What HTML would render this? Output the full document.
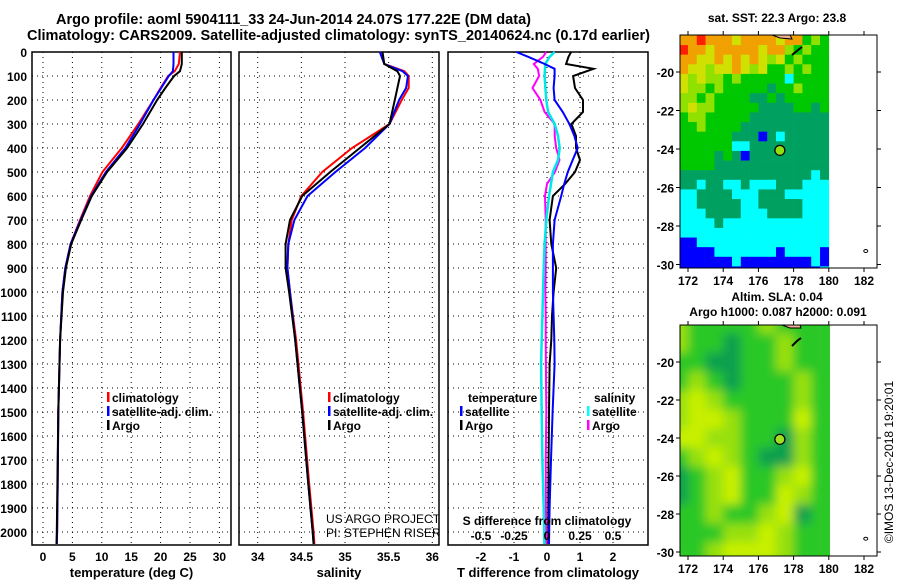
<!DOCTYPE html>
<html><head><meta charset="utf-8">
<style>
body{margin:0;background:#fff;width:900px;height:580px;overflow:hidden;font-family:"Liberation Sans",Arial,sans-serif}
svg text{font-family:"Liberation Sans",Arial,sans-serif}
</style></head>
<body>
<svg id="chart" width="900" height="580" viewBox="0 0 900 580" xmlns="http://www.w3.org/2000/svg">
<defs>
<clipPath id="cp1"><rect x="32" y="42" width="199" height="503"/></clipPath>
<clipPath id="cp2"><rect x="239" y="42" width="200" height="503"/></clipPath>
<clipPath id="cp3"><rect x="448" y="42" width="200" height="503"/></clipPath>
<clipPath id="cpm1"><rect x="680" y="35" width="150" height="233"/></clipPath>
<clipPath id="cpm2"><rect x="680" y="325" width="150" height="231"/></clipPath>
<filter id="blur" x="-5%" y="-5%" width="110%" height="110%"><feGaussianBlur stdDeviation="5"/></filter>
</defs>
<text x="56" y="24" textLength="475" lengthAdjust="spacingAndGlyphs" font-size="14.5" font-weight="bold">Argo profile: aoml 5904111_33 24-Jun-2014 24.07S 177.22E (DM data)</text>
<text x="27" y="40" textLength="623" lengthAdjust="spacingAndGlyphs" font-size="14.5" font-weight="bold">Climatology: CARS2009. Satellite-adjusted climatology: synTS_20140624.nc (0.17d earlier)</text>
<g id="layer"></g>
</svg>
<script>
// ---- data ----
const depthTicks = [0,100,200,300,400,500,600,700,800,900,1000,1100,1200,1300,1400,1500,1600,1700,1800,1900,2000];
const tempTicks = [0,5,10,15,20,25,30];
const salTicks = [34,34.5,35,35.5,36];
const salTickLabels = ["34","34.5","35","35.5","36"];
const tdiffTicks = [-2,-1,0,1,2];
const sdiffTicks = [-0.5,-0.25,0,0.25,0.5];
const sdiffTickLabels = ["-0.5","-0.25","0","0.25","0.5"];

const depths = [0,50,80,100,150,200,300,400,500,600,700,800,900,1000,1200,1500,1800,2000,2050];
const tempArgo = [23.6,23.6,23.3,22.3,20.8,19.4,17.0,14.3,10.9,8.3,6.5,4.8,3.9,3.4,2.9,2.6,2.45,2.35,2.3];
const tempClim = [23.3,23.1,22.4,21.3,20.0,18.8,16.2,13.4,10.1,8.0,6.3,4.7,3.8,3.3,2.9,2.6,2.5,2.4,2.35];
const tempSat  = [22.2,22.2,22.1,21.4,20.1,18.8,16.5,14.0,10.7,8.2,6.4,4.7,3.8,3.3,2.9,2.6,2.5,2.4,2.35];
const salArgo = [35.43,35.45,35.60,35.63,35.60,35.57,35.51,35.17,34.83,34.51,34.37,34.32,34.32,34.36,34.43,34.51,34.58,34.63,34.64];
const salClim = [35.40,35.45,35.68,35.73,35.73,35.65,35.51,35.08,34.74,34.50,34.39,34.35,34.34,34.37,34.44,34.52,34.59,34.64,34.65];
const salSat  = [35.40,35.45,35.66,35.72,35.70,35.62,35.51,35.23,34.89,34.57,34.42,34.35,34.34,34.37,34.43,34.51,34.58,34.63,34.64];

const diffDepths = [0,20,50,70,100,150,200,250,300,350,400,450,500,550,600,700,800,900,1000,1100,1200,1300,1500,1700,1900,2050];
const dT_argo = [0.73,0.65,0.58,1.41,0.79,0.85,1.09,1.09,0.74,0.88,0.88,1.0,0.85,0.55,0.18,0.08,0.13,0.28,0.2,0.15,0.13,0.08,0.06,0.05,0.04,0.04];
const dT_sat  = [-0.93,-0.57,-0.07,0.23,0.23,0.2,0.23,0.48,0.68,0.83,0.93,0.78,0.63,0.52,0.43,0.23,0.18,0.18,0.18,0.2,0.22,0.23,0.17,0.12,0.08,0.06];
const dS_sat  = [0.058,0.02,-0.013,-0.015,-0.018,-0.012,-0.005,0.008,0.058,0.083,0.096,0.083,0.045,0.03,0.015,-0.005,-0.018,-0.025,-0.03,-0.035,-0.04,-0.045,-0.04,-0.035,-0.025,-0.02];
const dS_argo = [-0.005,-0.03,-0.1,-0.07,-0.06,-0.11,-0.05,-0.018,0.058,0.058,0.07,0.095,0.06,0.0,-0.015,-0.01,-0.01,-0.01,-0.012,-0.01,-0.01,-0.008,-0.005,-0.01,-0.008,-0.005];

const sstRows = [
"OOROOOYOOOOYOOGLG","ROOYOOOOOYOOLGLGG","OOYYOYOYOYLYGLGGG","OYYLYYOYLYGGLGLGG",
"YLYLLGLGGGGGCGGGG","YLLGLGGGGGTGGLGGG","LLGLGGGGTTGTGGGGG","LYLLGGGGGTTTTGGTG",
"GLLGGGGGTTTTTTTTT","GGLGGGGTTTTTTTTTT","GGGGGGTTTBTCTTTTT","GGGGGGCCTTTTTTTTT",
"GGGGTGTBTTTTTTTTT","GGGGTTTTTTTTTTTTT","TTTTTTTTTTTTTTTCT","TTCTTCCTCCCTTTCCC",
"CCTTTTCCCTTTCCCCC","CCTTTTTCCTTTTTCCC","CCCTTTTCCCTTTTCCC","CCCCTCCCCCCCCCCCC",
"CCCCCCCCCCCCCCCCC","BBCCCCCCCCCCCCCCC","BBBBCCCCCCCBCCCCB","BBBBBBCBBBBBBBBCB","BBBBBBBBBBBBBBBBC"];
const sstColors = {O:"#f0a000",R:"#ff2000",Y:"#d0e000",L:"#90e000",G:"#00c800",T:"#00a060",C:"#00ffff",B:"#0000ff"};
const slaRows = ["LGGGGLGGG","LGGDGGLGG","GGDDGGLGG","GLGDGGGLG","LYLGGGGLG","LYYLGGGYG","YYLLGGDLG","GLYLGDDLG","DGLYGGLYG","DGLYGGYLG","GGLGGLYDG","GGGLLYLGG","GGLYYYLGG"];
const slaColors = {D:"#10a050",G:"#2cc828",L:"#98e010",Y:"#c8f000"};
const argoLon = 177.22, argoLat = -24.07;

// ---- scales ----
const yD = d => 52 + 0.24*d;
const xT = t => 43 + 5.88*t;
const xS = s => 257.7 + 87.3*(s-34);
const xdT = v => 547 + 33*v;
const xdS = v => 547 + 132*v;
const mLon = lon => 688 + (lon-172)*17.6;
const m1Lat = lat => 72 + (-20-lat)*19.25;
const m2Lat = lat => 362 + (-20-lat)*19;

const NS="http://www.w3.org/2000/svg";
const layer=document.getElementById('layer');
function mk(tag, attrs, parent){const e=document.createElementNS(NS,tag);for(const k in attrs)e.setAttribute(k,attrs[k]);(parent||layer).appendChild(e);return e;}
function txt(x,y,s,size,anchor,bold,parent){const e=mk('text',{x:x,y:y,'font-size':size,'text-anchor':anchor||'middle','font-weight':bold===false?'normal':'bold'},parent);e.textContent=s;return e;}

function panel(x0,x1,name,xticks,xfn,xlabels,xtitle){
  const g=mk('g',{});
  
  
  depthTicks.forEach(d=>{
    const l=mk('line',{x1:x0,x2:x1,y1:yD(d),y2:yD(d),stroke:'#000','stroke-width':1,'stroke-dasharray':'1,4'},g);
    
    
  });
  xticks.forEach((t,i)=>{
    const X=xfn(t);
    const l=mk('line',{x1:X,x2:X,y1:52,y2:545,stroke:'#000','stroke-width':1,'stroke-dasharray':'1,4'},g);
    
    
    if(xlabels){
      const t2=txt(X,561,xlabels[i],12,'middle',true,g);
      
      
    }
  });
  const r=mk('rect',{x:x0,y:52,width:x1-x0,height:493,fill:'none',stroke:'#000','stroke-width':1.5},g);
  
  
  if(xtitle){
    const tt=txt((x0+x1)/2,577,xtitle,13,'middle',true,g);
    
    
  }
  return g;
}
function line(xs,ds,xfn,color,clip,name,w){
  const pts=xs.map((v,i)=>xfn(v).toFixed(1)+','+yD(ds[i]).toFixed(1)).join(' ');
  const p=mk('polyline',{points:pts,fill:'none',stroke:color,'stroke-width':w||2,'clip-path':'url(#'+clip+')'});
  
  
}

depthTicks.forEach(d=>{
  const t=txt(27,yD(d)+5,String(d),12,'end',true);
  
  
});

panel(32,231,'temperature-panel',tempTicks,xT,tempTicks.map(String),'temperature (deg C)');
panel(239,439,'salinity-panel',salTicks,xS,salTickLabels,'salinity');
panel(448,648,'difference-panel',tdiffTicks,xdT,tdiffTicks.map(String),'T difference from climatology');

line(tempClim,depths,xT,'#ff0000','cp1','temp-climatology-line');
line(tempSat,depths,xT,'#0000ff','cp1','temp-satellite-line');
line(tempArgo,depths,xT,'#000000','cp1','temp-argo-line');
line(salClim,depths,xS,'#ff0000','cp2','sal-climatology-line');
line(salSat,depths,xS,'#0000ff','cp2','sal-satellite-line');
line(salArgo,depths,xS,'#000000','cp2','sal-argo-line');
line(dT_argo,diffDepths,xdT,'#000000','cp3','tdiff-argo-line');
line(dS_argo,diffDepths,xdS,'#ff00ff','cp3','sdiff-argo-line');
line(dS_sat,diffDepths,xdS,'#00e8e8','cp3','sdiff-satellite-line',2.5);
line(dT_sat,diffDepths,xdT,'#0000ff','cp3','tdiff-satellite-line');

{const t=txt(547,525,'S difference from climatology',12,'middle',true);

}
sdiffTicks.forEach((v,i)=>{
  const t=txt(xdS(v),540,sdiffTickLabels[i],12,'middle',true);
  
  
});

function legend(x,y,items,name){
  const g=mk('g',{});
  
  
  items.forEach((it,i)=>{
    const yy=y+i*14;
    if(it[1]){const b=mk('rect',{x:x,y:yy-10,width:2.5,height:10,fill:it[1]},g);
    
    }
    const t=txt(x+(it[1]?5:0),yy,it[0],12,'start',true,g);
    
    
  });
}
legend(107,402,[['climatology','#ff0000'],['satellite-adj. clim.','#0000ff'],['Argo','#000000']],'temperature-legend');
legend(328,402,[['climatology','#ff0000'],['satellite-adj. clim.','#0000ff'],['Argo','#000000']],'salinity-legend');
legend(468,402,[['temperature',null]],'tdiff-legend-title');
legend(460,416,[['satellite','#0000ff'],['Argo','#000000']],'tdiff-legend');
legend(594,402,[['salinity',null]],'sdiff-legend-title');
legend(587,416,[['satellite','#00ffff'],['Argo','#ff00ff']],'sdiff-legend');
{const g=mk('g',{'clip-path':'url(#cp2)'});


txt(326,523,'US ARGO PROJECT',12,'start',false,g);
txt(326,537,'PI: STEPHEN RISER',12,'start',false,g);}

function mapFrame(top,bot,latFn,lats,name){
  const g=mk('g',{});
  
  
  const r=mk('rect',{x:680,y:top,width:197,height:bot-top,fill:'none',stroke:'#000','stroke-width':1},g);
  
  
  [172,174,176,178,180,182].forEach(lon=>{
    const X=mLon(lon);
    mk('line',{x1:X,x2:X,y1:top,y2:top-4,stroke:'#000'},g);
    mk('line',{x1:X,x2:X,y1:bot,y2:bot+4,stroke:'#000'},g);
    const t=txt(X,bot+17,String(lon),12,'middle',true,g);
    
    
  });
  lats.forEach(lat=>{
    const Y=latFn(lat);
    mk('line',{x1:680,x2:676,y1:Y,y2:Y,stroke:'#000'},g);
    mk('line',{x1:877,x2:881,y1:Y,y2:Y,stroke:'#000'},g);
    const t=txt(674,Y+5,String(lat),12,'end',true,g);
    
    
  });
  const c=mk('ellipse',{cx:mLon(182.1),cy:latFn(-29.3),rx:2,ry:1.5,fill:'none',stroke:'#000'},g);
  
  
}
{const g=mk('g',{'clip-path':'url(#cpm1)'});


sstRows.forEach((row,ri)=>{
  for(let ci=0;ci<row.length;ci++){
    const lon=171.5+ci*0.5, lat=-18.1-ri*0.5;
    const x0=mLon(lon), y0=m1Lat(lat);
    const cell=mk('rect',{x:x0,y:y0,width:mLon(lon+0.5)-x0+0.3,height:m1Lat(lat-0.5)-y0+0.3,fill:sstColors[row[ci]]},g);
    
    
  }
});}
{const g=mk('g',{'clip-path':'url(#cpm2)'});


mk('rect',{x:680,y:325,width:150,height:231,fill:'#2cc828'},g);
const gb=mk('g',{filter:'url(#blur)'},g);
slaRows.forEach((row,ri)=>{
  for(let ci=0;ci<row.length;ci++){
    const lon=171.0+ci*1, lat=-17.5-ri*1;
    const x0=mLon(lon), y0=m2Lat(lat);
    const cell=mk('rect',{x:x0,y:y0,width:mLon(lon+1)-x0+0.5,height:m2Lat(lat-1)-y0+0.5,fill:slaColors[row[ci]]},gb);
    
    
  }
});}
[[35,'M772,35 L790,35 L792,39 L780,38 Z'],[325,'M782,325 L800,325 L801,328 L790,328 Z']].forEach(c=>{
  const p=mk('path',{d:c[1],fill:'#f0b090',stroke:'#000','stroke-width':1});
  
  
});
[[35+18,'M792,55 L798,50 L802,47'],[325+18,'M792,346 L797,341 L801,338']].forEach(c=>{
  const p=mk('path',{d:c[1],fill:'none',stroke:'#000','stroke-width':2});
  
  
});
mapFrame(35,268,m1Lat,[-20,-22,-24,-26,-28,-30],'sst-map');
mapFrame(325,556,m2Lat,[-20,-22,-24,-26,-28,-30],'sla-map');
{const c=mk('circle',{cx:mLon(argoLon),cy:m1Lat(argoLat),r:5,fill:'#90e010',stroke:'#000','stroke-width':1.2});


const c2=mk('circle',{cx:mLon(argoLon),cy:m2Lat(argoLat),r:5,fill:'#a0e020',stroke:'#000','stroke-width':1.2});

}
{const a=txt(777,22,'sat. SST: 22.3 Argo: 23.8',12,'middle',true);


const b=txt(777,301,'Altim. SLA: 0.04',12,'middle',true);


const c=txt(778,316,'Argo h1000: 0.087 h2000: 0.091',12,'middle',true);


const d=txt(0,0,'©IMOS 13-Dec-2018 19:20:01',12,'middle',false);
d.setAttribute('transform','translate(893,462) rotate(-90)');

}
</script>
</body></html>
